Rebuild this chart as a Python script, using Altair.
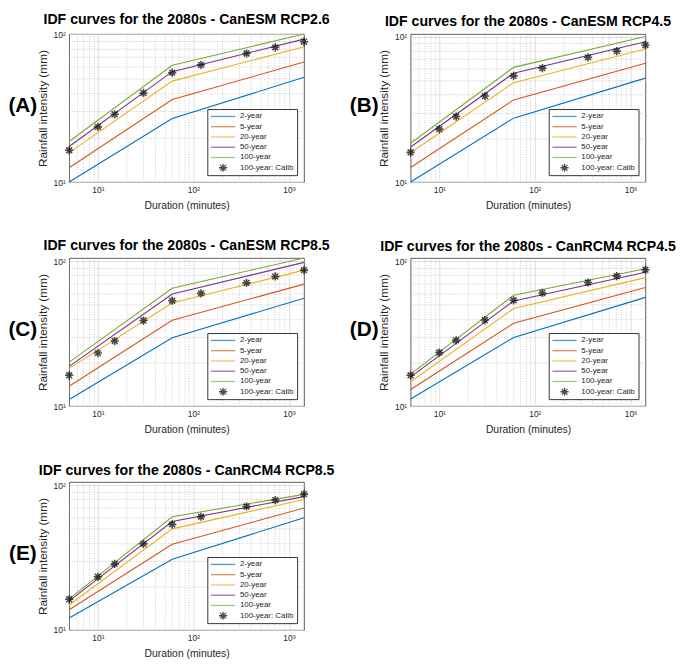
import altair as alt
import pandas as pd

# ---------------- data ----------------
durations = [5, 10, 15, 30, 60, 120, 360, 720, 1440]
line_durations = [5, 60, 1440]
series_names = ["2-year", "5-year", "20-year", "50-year", "100-year", "100-year: Calib"]
series_colors = ["#0072BD", "#D95319", "#EDB120", "#7E2F8E", "#77AC30", "#000000"]

x_major = [10, 100, 1000]
x_minor = [5, 6, 7, 8, 9, 20, 30, 40, 50, 60, 70, 80, 90, 200, 300, 400, 500, 600, 700, 800, 900]
y_major = [10, 100]
y_minor = [20, 30, 40, 50, 60, 70, 80, 90]

panel_titles = [
    "IDF curves for the 2080s - CanESM RCP2.6",
    "IDF curves for the 2080s - CanESM RCP4.5",
    "IDF curves for the 2080s - CanESM RCP8.5",
    "IDF curves for the 2080s - CanRCM4 RCP4.5",
    "IDF curves for the 2080s - CanRCM4 RCP8.5",
]
panel_tags = ["(A)", "(B)", "(C)", "(D)", "(E)"]
y_tops = [100, 104, 105, 105, 105]

# values at 5, 60 and 1440 minutes for 2-, 5-, 20-, 50-, 100-year lines
a_lines = [[10.0, 26.9, 51.0], [12.5, 36.1, 64.7], [15.8, 48.1, 82.0], [17.4, 55.7, 92.4], [18.8, 61.5, 100.0]]
b_lines = [[10.0, 27.5, 51.8], [12.6, 36.7, 65.6], [15.9, 48.2, 82.2], [17.4, 56.0, 92.1], [18.5, 61.4, 100.0]]
c_lines = [[11.1, 29.6, 55.5], [13.7, 39.1, 69.4], [18.2, 51.4, 86.7], [18.8, 59.3, 98.0], [20.1, 65.0, 105.0]]
d_lines = [[11.2, 29.7, 56.2], [13.0, 37.3, 65.7], [14.7, 47.1, 76.9], [15.9, 53.1, 83.8], [16.6, 58.2, 88.5]]
e_lines = [[12.1, 30.8, 59.6], [13.8, 39.1, 69.4], [14.9, 49.9, 79.6], [15.9, 56.1, 83.3], [16.4, 60.5, 86.3]]

# 100-year calibration points at every duration
a_calib = [16.4, 23.6, 28.7, 40.0, 54.9, 61.9, 73.9, 81.3, 88.8]
b_calib = [16.0, 23.1, 28.2, 39.0, 53.7, 60.7, 71.9, 79.4, 87.5]
c_calib = [16.3, 23.2, 28.1, 38.9, 53.3, 59.9, 70.8, 78.4, 86.7]
d_calib = [16.3, 23.4, 28.4, 39.2, 53.7, 60.3, 71.2, 78.8, 87.2]
e_calib = [16.3, 23.3, 28.6, 39.3, 53.6, 60.5, 71.2, 78.8, 86.7]

all_lines = [a_lines, b_lines, c_lines, d_lines, e_lines]
all_calib = [a_calib, b_calib, c_calib, d_calib, e_calib]

# ---------------- styling ----------------
FONT = "Liberation Sans"
W, H = 238, 150
ASTERISK = ("M-0.34,0L0.34,0M0,-0.34L0,0.34"
            "M-0.24,-0.24L0.24,0.24M-0.24,0.24L0.24,-0.24")
series_shapes = ["stroke"] * 5 + [ASTERISK]

x_label_expr = "datum.value == 10 ? '10\u00b9' : datum.value == 100 ? '10\u00b2' : '10\u00b3'"
y_label_expr = "datum.value == 10 ? '10\u00b9' : '10\u00b2'"


def make_legend():
    return alt.Legend(
        title=None, orient="bottom-right", offset=7,
        symbolSize=600, symbolStrokeWidth=1.3, clipHeight=9,
        rowPadding=1.4, labelFontSize=8, labelFont=FONT, labelColor="#262626",
        labelOffset=4, padding=3, strokeColor="#333333", fillColor="white",
        symbolFillColor="transparent",
    )


def make_panel(i):
    rows = []
    for name, vals in zip(series_names[:5], all_lines[i]):
        for d, v in zip(line_durations, vals):
            rows.append({"duration": d, "intensity": v, "series": name})
    lines_df = pd.DataFrame(rows)
    calib_df = pd.DataFrame({"duration": durations, "intensity": all_calib[i],
                             "series": series_names[5]})

    xs = alt.Scale(type="log", domain=[5, 1440], nice=False)
    ys = alt.Scale(type="log", domain=[10, y_tops[i]], nice=False)
    cscale = alt.Scale(domain=series_names, range=series_colors)
    sscale = alt.Scale(domain=series_names, range=series_shapes)

    minor = alt.Chart(calib_df).mark_point(opacity=0).encode(
        x=alt.X("duration:Q", scale=xs, axis=alt.Axis(
            orient="top", values=x_minor, grid=True, gridDash=[1, 1.5],
            gridColor="#b4b4b4", gridWidth=0.7, labels=False, ticks=False,
            domain=False, title=None)),
        y=alt.Y("intensity:Q", scale=ys, axis=alt.Axis(
            orient="right", values=y_minor, grid=True, gridDash=[1, 1.5],
            gridColor="#b4b4b4", gridWidth=0.7, labels=False, ticks=False,
            domain=False, title=None)),
    )

    lines = alt.Chart(lines_df).mark_line(strokeWidth=1.1).encode(
        x=alt.X("duration:Q", scale=xs, axis=alt.Axis(
            orient="bottom", values=x_major, grid=True, gridColor="#d6d6d6",
            gridWidth=0.8, labelExpr=x_label_expr, ticks=False, domain=False,
            labelPadding=4, titlePadding=6, titleFontSize=10.5,
            title="Duration (minutes)")),
        y=alt.Y("intensity:Q", scale=ys, axis=alt.Axis(
            orient="left", values=y_major, grid=True, gridColor="#d6d6d6",
            gridWidth=0.8, labelExpr=y_label_expr, ticks=False, domain=False,
            labelPadding=4, titlePadding=4, titleFontSize=12,
            title="Rainfall intensity (mm)")),
        color=alt.Color("series:N", scale=cscale, legend=make_legend()),
        detail="series:N",
    )

    calib = alt.Chart(calib_df).mark_point(filled=False, size=600, strokeWidth=1.6).encode(
        x=alt.X("duration:Q", scale=xs, axis=None),
        y=alt.Y("intensity:Q", scale=ys, axis=None),
        color=alt.Color("series:N", scale=cscale, legend=make_legend()),
        shape=alt.Shape("series:N", scale=sscale, legend=make_legend()),
    )

    tag = alt.Chart(pd.DataFrame({"t": [panel_tags[i]]})).mark_text(
        font=FONT, fontSize=21, fontWeight="bold", color="black",
        align="center", baseline="middle",
    ).encode(text="t:N", x=alt.value(-47), y=alt.value(H / 2 - 2))

    return alt.layer(minor, lines, calib, tag).resolve_axis(
        x="independent", y="independent"
    ).properties(
        width=W, height=H,
        title=alt.TitleParams(panel_titles[i], font=FONT, fontSize=14.3,
                              fontWeight="bold", color="black", anchor="middle",
                              frame="group", offset=3),
    )


panels = [make_panel(i) for i in range(5)]
chart = alt.concat(
    *panels, columns=2, bounds="flush", spacing={"row": 77, "column": 108}
).resolve_scale(
    color="independent", shape="independent"
).resolve_legend(
    color="independent", shape="independent"
).properties(
    padding={"left": 0, "top": 0, "right": 0, "bottom": 0}
).configure_view(
    stroke="#333333", strokeWidth=0.8
).configure_axis(
    labelFont=FONT, titleFont=FONT, labelColor="#262626", titleColor="#262626",
    labelFontSize=8.5, titleFontWeight="normal",
)

chart.save("out.html", embed_options={"renderer": "svg", "actions": False})
